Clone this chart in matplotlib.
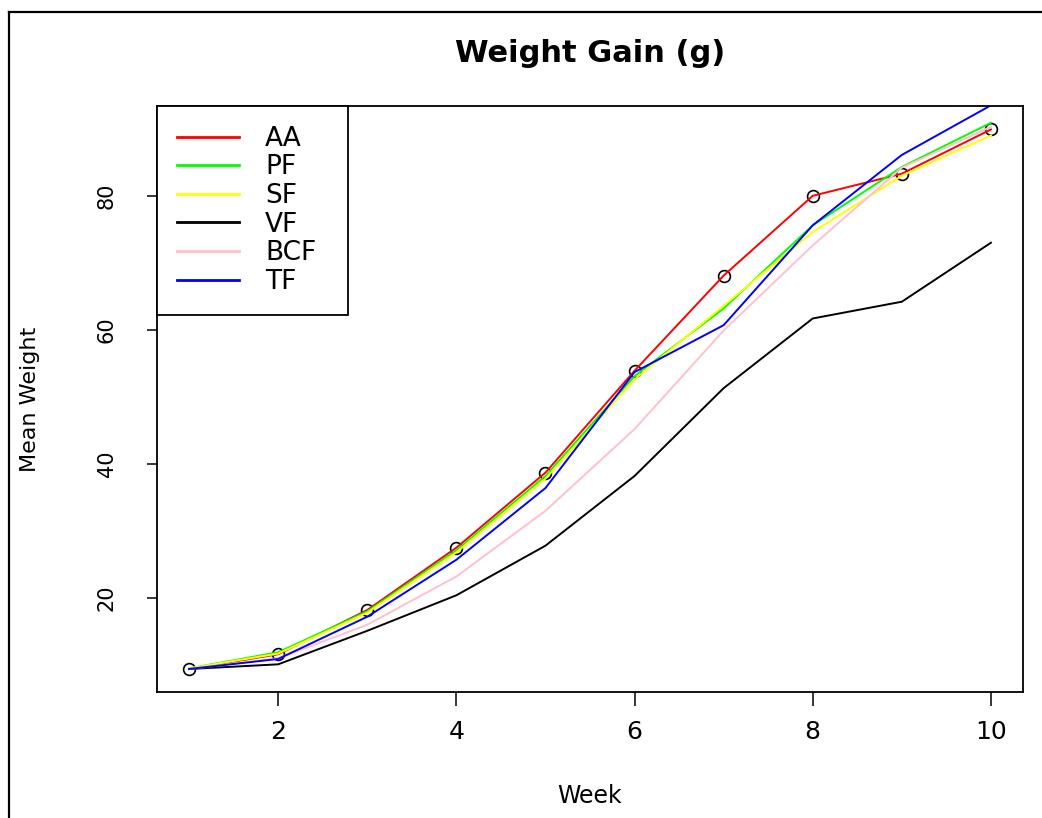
import matplotlib
matplotlib.use('Agg')
import matplotlib.pyplot as plt
from matplotlib.lines import Line2D

weeks = [1, 2, 3, 4, 5, 6, 7, 8, 9, 10]
AA = [9.4, 11.6, 18.2, 27.5, 38.7, 53.9, 68.1, 80.0, 83.3, 89.9]
PF = [9.5, 11.9, 18.0, 27.1, 38.2, 53.1, 63.2, 75.6, 84.3, 90.9]
SF = [9.5, 11.7, 17.8, 26.8, 37.8, 52.6, 63.6, 74.6, 83.0, 89.0]
VF = [9.4, 10.1, 15.1, 20.4, 27.8, 38.2, 51.3, 61.7, 64.2, 73.0]
BCF = [9.4, 11.0, 16.0, 23.2, 33.0, 45.2, 59.9, 72.6, 84.2, 90.3]
TF = [9.4, 10.9, 17.2, 25.7, 36.4, 53.7, 60.7, 75.6, 86.1, 93.5]

names = ['AA', 'PF', 'SF', 'VF', 'BCF', 'TF']
series = [AA, PF, SF, VF, BCF, TF]
colors = ['red', '#00ff00', '#ffff00', 'black', 'pink', 'blue']

W, H = 1042, 818
fig = plt.figure(figsize=(W / 100, H / 100), dpi=100)

# plot region in pixels: left 157, right 1023, top 106, bottom 692
ax = fig.add_axes([157 / W, 1 - 692 / H, 866 / W, 586 / H])

ax.plot(weeks, AA, 'o', mfc='none', mec='black', ms=8.5, mew=1.2)
for name, vals, c in zip(names, series, colors):
    ax.plot(weeks, vals, color=c, lw=1.4, label=name)

ax.set_xlim(0.64, 10.36)
ax.set_ylim(5.97, 93.4)
ax.set_xticks([2, 4, 6, 8, 10])
ax.set_yticks([20, 40, 60, 80])

for s in ax.spines.values():
    s.set_linewidth(1.3)
ax.tick_params(axis='x', direction='out', length=10, width=1.1, labelsize=18, pad=10)
ax.tick_params(axis='y', direction='out', length=7, width=1.1, labelsize=15, pad=22)
for lab in ax.get_yticklabels():
    lab.set_rotation(90)
    lab.set_va('center')
    lab.set_ha('right')

leg = ax.legend(loc='upper left', bbox_to_anchor=(0, 1, 191 / 866, 0),
                mode='expand', borderaxespad=0,
                fancybox=False, framealpha=1, edgecolor='black', fontsize=19,
                handlelength=2.35, handletextpad=1.0, borderpad=0.75,
                labelspacing=0.1)
leg.get_frame().set_linewidth(1.3)
for h in leg.get_lines():
    h.set_linewidth(2.0)

fig.text(590 / W, 1 - 53 / H, 'Weight Gain (g)', ha='center', va='center',
         fontsize=22, fontweight='bold')
fig.text(590 / W, 1 - 796 / H, 'Week', ha='center', va='center', fontsize=17)
fig.text(30 / W, 1 - 399 / H, 'Mean Weight', ha='center', va='center',
         fontsize=16, rotation=90)

# outer frame (left and top edges visible)
fig.add_artist(Line2D([9 / W, 9 / W], [0, 1 - 12 / H], transform=fig.transFigure,
                      color='black', lw=1.6))
fig.add_artist(Line2D([9 / W, 1], [1 - 12 / H, 1 - 12 / H], transform=fig.transFigure,
                      color='black', lw=1.6))

fig.savefig('out.png', dpi=100)
